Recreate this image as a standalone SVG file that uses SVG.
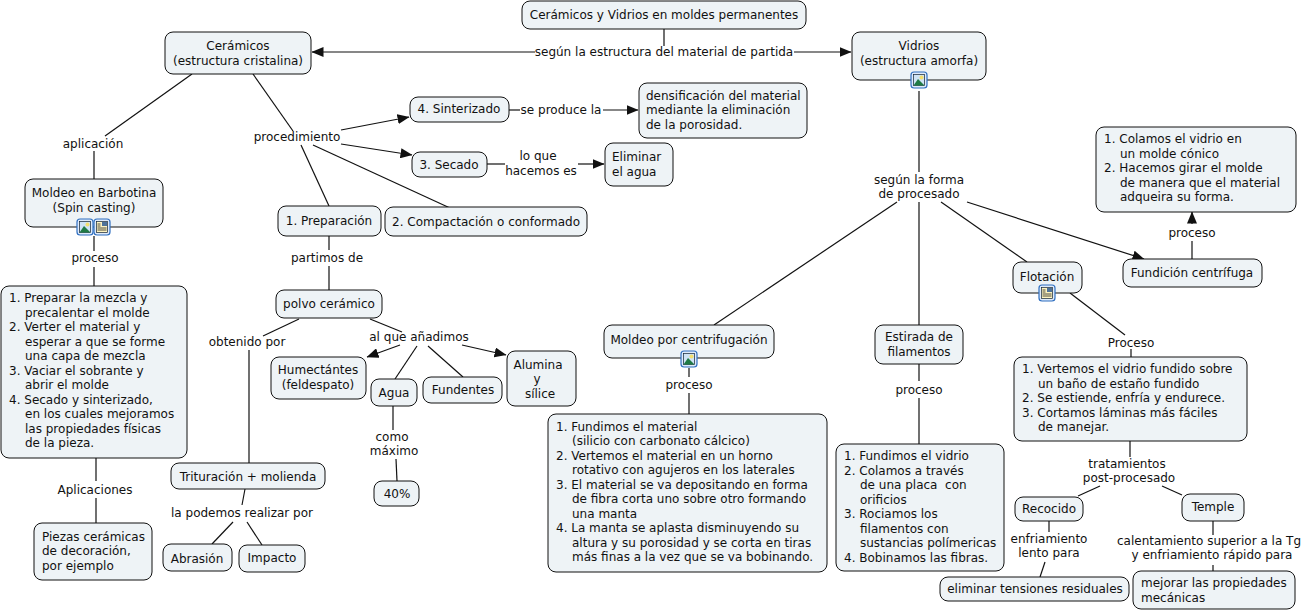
<svg xmlns="http://www.w3.org/2000/svg" width="1309" height="612" viewBox="0 0 1309 612">
<style>
text{font-family:"DejaVu Sans","Liberation Sans",sans-serif;font-size:12px;fill:#111}
.m{text-anchor:middle}
.b{fill:#eef3f6;stroke:#111;stroke-width:1;}
.c line{stroke:#111;stroke-width:1.2}
.a{marker-end:url(#ah)}
</style>
<defs>
<marker id="ah" viewBox="0 0 12 10" refX="11.5" refY="5" markerWidth="12" markerHeight="10" markerUnits="userSpaceOnUse" orient="auto"><path d="M0 0L12 5L0 10z" fill="#111"/></marker>
<g id="imgI"><rect x="-8" y="-8" width="16" height="16" rx="3" fill="#dfeafa" stroke="#2f6fc0" stroke-width="1.2"/><rect x="-5.5" y="-5.500" width="11" height="11" fill="#cfe3f5" stroke="#123" stroke-width=".7"/><circle cx="2.500" cy="-2.500" r="2" fill="#f3df70"/><path d="M-5.500 5.500L-1-1L5.500 5.500z" fill="#1f7a45"/></g>
<g id="docI"><rect x="-8" y="-8" width="16" height="16" rx="3" fill="#dfeafa" stroke="#2f6fc0" stroke-width="1.2"/><rect x="-5.500" y="-5.500" width="11" height="11" fill="#fdf3c0" stroke="#123" stroke-width=".7"/><rect x="0" y="-5" width="5" height="4" fill="#4f7299"/><path d="M-4.500-3h3M-4.500-1h3M-4.500 1h9M-4.500 3h9" stroke="#222" stroke-width=".8"/></g>
</defs>
<rect width="1309" height="612" fill="#fff"/>
<g id="connectors" class="c">
<line x1="664" y1="29" x2="664" y2="46"/>
<line x1="535" y1="52" x2="312" y2="52" class="a"/>
<line x1="794" y1="52" x2="851" y2="52" class="a"/>
<line x1="192" y1="74" x2="105" y2="136"/>
<line x1="94" y1="151" x2="94" y2="179"/>
<line x1="94" y1="236" x2="94" y2="251"/>
<line x1="94" y1="267" x2="94" y2="286"/>
<line x1="96" y1="458" x2="96" y2="481"/>
<line x1="96" y1="498" x2="96" y2="523"/>
<line x1="253" y1="74" x2="293" y2="131"/>
<line x1="341" y1="130" x2="409" y2="117" class="a"/>
<line x1="341" y1="144" x2="412" y2="155" class="a"/>
<line x1="313" y1="145" x2="450" y2="208"/>
<line x1="301" y1="145" x2="329" y2="206"/>
<line x1="509" y1="110" x2="520" y2="110"/>
<line x1="603" y1="110" x2="638" y2="110" class="a"/>
<line x1="487" y1="164" x2="505" y2="164"/>
<line x1="578" y1="164" x2="604" y2="164" class="a"/>
<line x1="329" y1="236" x2="329" y2="250"/>
<line x1="329" y1="266" x2="329" y2="290"/>
<line x1="299" y1="319" x2="263" y2="336"/>
<line x1="249" y1="350" x2="249" y2="463"/>
<line x1="370" y1="319" x2="402" y2="332"/>
<line x1="400" y1="345" x2="367" y2="357" class="a"/>
<line x1="417" y1="346" x2="395" y2="379"/>
<line x1="428" y1="346" x2="463" y2="377"/>
<line x1="462" y1="345" x2="506" y2="355" class="a"/>
<line x1="393" y1="406" x2="393" y2="430"/>
<line x1="396" y1="459" x2="397" y2="481"/>
<line x1="245" y1="489" x2="242" y2="505"/>
<line x1="233" y1="522" x2="212" y2="544"/>
<line x1="247" y1="522" x2="262" y2="545"/>
<line x1="919" y1="91" x2="919" y2="172"/>
<line x1="897" y1="202" x2="714" y2="325"/>
<line x1="919" y1="202" x2="919" y2="325"/>
<line x1="941" y1="202" x2="1027" y2="262"/>
<line x1="967" y1="202" x2="1144" y2="259" class="a"/>
<line x1="1192" y1="259" x2="1192" y2="241"/>
<line x1="1192" y1="224" x2="1192" y2="212" class="a"/>
<line x1="1070" y1="293" x2="1125" y2="335"/>
<line x1="1131" y1="349" x2="1131" y2="357"/>
<line x1="689" y1="368" x2="689" y2="377"/>
<line x1="689" y1="393" x2="689" y2="414"/>
<line x1="919" y1="364" x2="919" y2="381"/>
<line x1="919" y1="398" x2="919" y2="444"/>
<line x1="1130" y1="441" x2="1130" y2="457"/>
<line x1="1100" y1="486" x2="1078" y2="496"/>
<line x1="1162" y1="486" x2="1182" y2="495"/>
<line x1="1049" y1="521" x2="1049" y2="532"/>
<line x1="1045" y1="562" x2="1040" y2="577"/>
<line x1="1213" y1="521" x2="1213" y2="535"/>
<line x1="1213" y1="565" x2="1213" y2="571"/>
</g>
<g id="labels">
<text class="m" x="664" y="56">según la estructura del material de partida</text>
<text class="m" x="93" y="148">aplicación</text>
<text class="m" x="95" y="262">proceso</text>
<text class="m" x="95" y="494">Aplicaciones</text>
<text class="m" x="297" y="141">procedimiento</text>
<text class="m" x="561" y="114">se produce la</text>
<text class="m"><tspan x="538" y="160">lo que</tspan><tspan x="541" y="175">hacemos es</tspan></text>
<text class="m" x="327" y="262">partimos de</text>
<text class="m" x="247" y="346">obtenido por</text>
<text class="m" x="419" y="341">al que añadimos</text>
<text class="m"><tspan x="392" y="441">como</tspan><tspan x="394" y="455">máximo</tspan></text>
<text class="m" x="242" y="517">la podemos realizar por</text>
<text class="m"><tspan x="919" y="184">según la forma</tspan><tspan x="919" y="198">de procesado</tspan></text>
<text class="m" x="1192" y="237">proceso</text>
<text class="m" x="1131" y="347">Proceso</text>
<text class="m" x="689" y="389">proceso</text>
<text class="m" x="919" y="394">proceso</text>
<text class="m"><tspan x="1127" y="468">tratamientos</tspan><tspan x="1129" y="482">post-procesado</tspan></text>
<text class="m"><tspan x="1049" y="543">enfriamiento</tspan><tspan x="1049" y="557">lento para</tspan></text>
<text class="m"><tspan x="1209" y="545">calentamiento superior a la Tg</tspan><tspan x="1212" y="559">y enfriamiento rápido para</tspan></text>
</g>
<g id="n-titulo"><rect class="b" x="522" y="1" width="284" height="28" rx="8"/><text class="m" x="664" y="19">Cerámicos y Vidrios en moldes permanentes</text></g>
<g id="n-ceramicos"><rect class="b" x="165" y="32" width="146" height="42" rx="8"/><text class="m"><tspan x="238" y="50">Cerámicos</tspan><tspan x="238" y="65">(estructura cristalina)</tspan></text></g>
<g id="n-vidrios"><rect class="b" x="852" y="32" width="134" height="48" rx="8"/><text class="m"><tspan x="919" y="50">Vidrios</tspan><tspan x="919" y="65">(estructura amorfa)</tspan></text><use href="#imgI" x="919" y="80"/></g>
<g id="n-barbotina"><rect class="b" x="25" y="179" width="138" height="48" rx="8"/><text class="m"><tspan x="94" y="197">Moldeo en Barbotina</tspan><tspan x="94" y="212">(Spin casting)</tspan></text><use href="#imgI" x="85" y="227"/><use href="#docI" x="102" y="227"/></g>
<g id="n-barbotina-pasos"><rect class="b" x="1" y="286" width="186" height="172" rx="8"/><text><tspan x="9" y="302">1. Preparar la mezcla y</tspan><tspan x="25" y="317">precalentar el molde</tspan><tspan x="9" y="331">2. Verter el material y</tspan><tspan x="25" y="346">esperar a que se forme</tspan><tspan x="25" y="360">una capa de mezcla</tspan><tspan x="9" y="375">3. Vaciar el sobrante y</tspan><tspan x="25" y="389">abrir el molde</tspan><tspan x="9" y="404">4. Secado y sinterizado,</tspan><tspan x="25" y="418">en los cuales mejoramos</tspan><tspan x="25" y="433">las propiedades físicas</tspan><tspan x="25" y="447">de la pieza.</tspan></text></g>
<g id="n-piezas"><rect class="b" x="34" y="523" width="118" height="57" rx="8"/><text><tspan x="42" y="541">Piezas cerámicas</tspan><tspan x="42" y="555">de decoración,</tspan><tspan x="42" y="570">por ejemplo</tspan></text></g>
<g id="n-preparacion"><rect class="b" x="278" y="206" width="103" height="30" rx="8"/><text class="m" x="329" y="225">1. Preparación</text></g>
<g id="n-compactacion"><rect class="b" x="385" y="207" width="202" height="29" rx="8"/><text class="m" x="486" y="226">2. Compactación o conformado</text></g>
<g id="n-sinterizado"><rect class="b" x="410" y="97" width="99" height="25" rx="8"/><text class="m" x="459" y="113">4. Sinterizado</text></g>
<g id="n-secado"><rect class="b" x="412" y="152" width="75" height="25" rx="8"/><text class="m" x="449" y="169">3. Secado</text></g>
<g id="n-densificacion"><rect class="b" x="639" y="83" width="168" height="55" rx="8"/><text><tspan x="646" y="100">densificación del material</tspan><tspan x="646" y="114">mediante la eliminación</tspan><tspan x="646" y="129">de la porosidad.</tspan></text></g>
<g id="n-eliminar"><rect class="b" x="605" y="143" width="68" height="43" rx="8"/><text><tspan x="612" y="161">Eliminar</tspan><tspan x="612" y="176">el agua</tspan></text></g>
<g id="n-polvo"><rect class="b" x="276" y="290" width="106" height="28" rx="8"/><text class="m" x="329" y="308">polvo cerámico</text></g>
<g id="n-humectantes"><rect class="b" x="271" y="357" width="95" height="42" rx="8"/><text class="m"><tspan x="318" y="374">Humectántes</tspan><tspan x="318" y="389">(feldespato)</tspan></text></g>
<g id="n-agua"><rect class="b" x="371" y="379" width="46" height="27" rx="8"/><text class="m" x="394" y="397">Agua</text></g>
<g id="n-fundentes"><rect class="b" x="423" y="377" width="79" height="26" rx="8"/><text class="m" x="463" y="394">Fundentes</text></g>
<g id="n-alumina"><rect class="b" x="507" y="351" width="69" height="55" rx="8"/><text class="m"><tspan x="538" y="369">Alumina</tspan><tspan x="537" y="383">y</tspan><tspan x="540" y="398">sílice</tspan></text></g>
<g id="n-40"><rect class="b" x="374" y="481" width="45" height="25" rx="8"/><text class="m" x="397" y="498">40%</text></g>
<g id="n-trituracion"><rect class="b" x="171" y="463" width="154" height="26" rx="8"/><text class="m" x="248" y="481">Trituración + molienda</text></g>
<g id="n-abrasion"><rect class="b" x="163" y="544" width="69" height="27" rx="8"/><text class="m" x="197" y="563">Abrasión</text></g>
<g id="n-impacto"><rect class="b" x="239" y="545" width="66" height="27" rx="8"/><text class="m" x="272" y="562">Impacto</text></g>
<g id="n-centrifugacion"><rect class="b" x="604" y="325" width="170" height="33" rx="8"/><text class="m" x="689" y="344">Moldeo por centrifugación</text><use href="#imgI" x="689" y="359"/></g>
<g id="n-centrifugacion-pasos"><rect class="b" x="548" y="414" width="279" height="158" rx="8"/><text><tspan x="556" y="431">1. Fundimos el material</tspan><tspan x="572" y="445">(silicio con carbonato cálcico)</tspan><tspan x="556" y="460">2. Vertemos el material en un horno</tspan><tspan x="572" y="474">rotativo con agujeros en los laterales</tspan><tspan x="556" y="489">3. El material se va depositando en forma</tspan><tspan x="572" y="503">de fibra corta uno sobre otro formando</tspan><tspan x="572" y="518">una manta</tspan><tspan x="556" y="532">4. La manta se aplasta disminuyendo su</tspan><tspan x="572" y="547">altura y su porosidad y se corta en tiras</tspan><tspan x="572" y="561">más finas a la vez que se va bobinando.</tspan></text></g>
<g id="n-estirada"><rect class="b" x="875" y="325" width="88" height="39" rx="8"/><text class="m"><tspan x="919" y="341">Estirada de</tspan><tspan x="919" y="356">filamentos</tspan></text></g>
<g id="n-estirada-pasos"><rect class="b" x="836" y="444" width="168" height="127" rx="8"/><text xml:space="preserve"><tspan x="844" y="460">1. Fundimos el vidrio</tspan><tspan x="844" y="475">2. Colamos a través</tspan><tspan x="860" y="489">de una placa  con</tspan><tspan x="860" y="504">orificios</tspan><tspan x="844" y="518">3. Rociamos los</tspan><tspan x="860" y="533">filamentos con</tspan><tspan x="860" y="547">sustancias polímericas</tspan><tspan x="844" y="562">4. Bobinamos las fibras.</tspan></text></g>
<g id="n-flotacion"><rect class="b" x="1013" y="262" width="69" height="31" rx="8"/><text class="m" x="1047" y="281">Flotación</text><use href="#docI" x="1047" y="293"/></g>
<g id="n-fundicion"><rect class="b" x="1123" y="259" width="139" height="28" rx="8"/><text class="m" x="1192" y="277">Fundición centrífuga</text></g>
<g id="n-fundicion-pasos"><rect class="b" x="1096" y="127" width="200" height="85" rx="8"/><text><tspan x="1104" y="143">1. Colamos el vidrio en</tspan><tspan x="1120" y="158">un molde cónico</tspan><tspan x="1104" y="172">2. Hacemos girar el molde</tspan><tspan x="1120" y="187">de manera que el material</tspan><tspan x="1120" y="201">adqueira su forma.</tspan></text></g>
<g id="n-flotacion-pasos"><rect class="b" x="1014" y="357" width="233" height="84" rx="8"/><text><tspan x="1022" y="373">1. Vertemos el vidrio fundido sobre</tspan><tspan x="1038" y="388">un baño de estaño fundido</tspan><tspan x="1022" y="402">2. Se estiende, enfría y endurece.</tspan><tspan x="1022" y="417">3. Cortamos láminas más fáciles</tspan><tspan x="1038" y="431">de manejar.</tspan></text></g>
<g id="n-recocido"><rect class="b" x="1015" y="497" width="68" height="24" rx="8"/><text class="m" x="1049" y="513">Recocido</text></g>
<g id="n-temple"><rect class="b" x="1182" y="494" width="62" height="27" rx="8"/><text class="m" x="1213" y="511">Temple</text></g>
<g id="n-tensiones"><rect class="b" x="940" y="577" width="189" height="24" rx="8"/><text class="m" x="1035" y="593">eliminar tensiones residuales</text></g>
<g id="n-mejorar"><rect class="b" x="1133" y="571" width="162" height="38" rx="8"/><text><tspan x="1141" y="587">mejorar las propiedades</tspan><tspan x="1141" y="602">mecánicas</tspan></text></g>
</svg>
